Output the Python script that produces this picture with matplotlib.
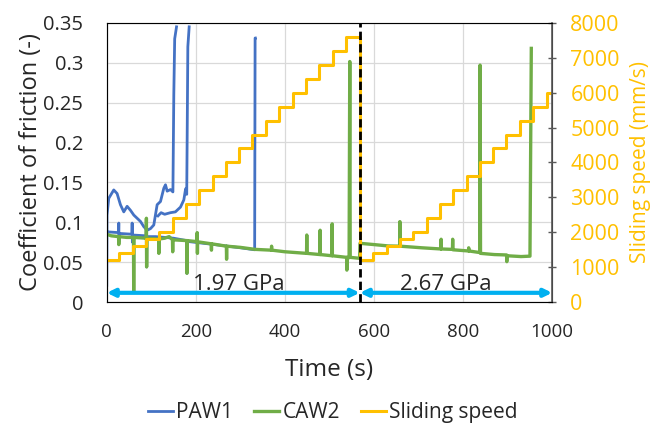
import numpy as np
import matplotlib
matplotlib.use('Agg')
import matplotlib.pyplot as plt

plt.rcParams['font.family'] = ['Open Sans', 'DejaVu Sans']

nan = np.nan

# PAW1 friction, three runs split by nan
paw1_time = [0, 0.5, 4.5, 15.7, 23.2, 30.7, 38.2, 45.7, 53.2, 60.7, 68.2, 75.7,
             83.1, 90.6, 98.1, 105.6, 113.1, 120.6, 128.1, 131.8, 135.6, 143.1,
             148.5, 150.5, 152.5, 156.6, nan,
             115, 122, 130, 143, 154, 165.5, 173, 177, 179.5, 180.4, 182, 185, nan,
             0, 26.5, 27, 27.5, 28, 56.5, 57, 57.5, 58, 88.5, 89, 89.5, 90, 110,
             150, 179.5, 180, 180.5, 250, 300, 332, 333, 333.5]
paw1_cof = [0.021, 0.109, 0.130, 0.1405, 0.136, 0.122, 0.113, 0.120, 0.115, 0.109, 0.105, 0.101,
            0.0945, 0.090, 0.092, 0.0966, 0.122, 0.126, 0.1427, 0.147, 0.139, 0.141,
            0.138, 0.26, 0.33, 0.345, nan,
            0.108, 0.112, 0.110, 0.112, 0.113, 0.119, 0.128, 0.142, 0.135, 0.20, 0.32, 0.345, nan,
            0.088, 0.087, 0.099, 0.075, 0.086, 0.085, 0.099, 0.075, 0.084, 0.083, 0.099, 0.044, 0.082, 0.082,
            0.080, 0.077, 0.036, 0.076, 0.0715, 0.068, 0.0655, 0.331, 0.331]

# CAW2 friction (1.97 GPa then 2.67 GPa)
caw2_time = [0, 10, 26.5, 27, 27.5, 45, 60, 60.5, 61, 88.5, 89, 89.5, 90,
             116.5, 117, 117.5, 130, 140, 147.5, 148, 148.5, 179.5, 180, 180.5,
             202.5, 203, 203.5, 204, 234.5, 235, 235.5, 268.5, 269, 269.5, 300, 333,
             369.5, 370, 370.5, 400, 448.5, 449, 449.5, 478.5, 479, 479.5,
             505.5, 506, 506.5, 538.5, 539, 539.5, 544, 545.5, 546.5, 567.5,
             568.5, 600, 632, 657.5, 658, 658.5, 707, 750, 750.6, 751, 776, 776.5, 777,
             812, 812.5, 813, 837.5, 838, 839, 870, 897.5, 898, 898.5, 930, 950, 953]
caw2_cof = [0.085, 0.083, 0.082, 0.072, 0.082, 0.081, 0.081, 0.013, 0.081, 0.080, 0.105, 0.044, 0.080,
            0.079, 0.061, 0.079, 0.080, 0.082, 0.078, 0.063, 0.078, 0.077, 0.036, 0.077,
            0.0757, 0.087, 0.061, 0.0755, 0.073, 0.065, 0.073, 0.070, 0.0536, 0.070, 0.0685, 0.066,
            0.065, 0.070, 0.065, 0.063, 0.061, 0.084, 0.061, 0.0595, 0.090, 0.0595,
            0.058, 0.098, 0.058, 0.056, 0.040, 0.056, 0.0555, 0.3015, 0.056, 0.0548,
            0.0736, 0.072, 0.0703, 0.070, 0.1008, 0.070, 0.068, 0.0665, 0.0787, 0.0665, 0.066, 0.0787, 0.0655,
            0.064, 0.068, 0.064, 0.062, 0.297, 0.061, 0.0595, 0.059, 0.0506, 0.058, 0.057, 0.0575, 0.318]

# sliding speed steps (mm/s)
speed_edges = [0, 28, 59, 88, 118, 148, 178, 207, 238, 267, 297, 327, 357, 387, 417,
               447, 477, 507, 537, 568, 597, 628, 658, 687, 718, 747, 777, 808, 838,
               867, 897, 928, 957, 988, 1000]
speed_values = [1200, 1400, 1600, 1800, 2000, 2400, 2800, 3200, 3600, 4000, 4400,
                4800, 5200, 5600, 6000, 6400, 6800, 7200, 7600,
                1200, 1400, 1600, 1800, 2000, 2400, 2800, 3200, 3600, 4000, 4400,
                4800, 5200, 5600, 6000]

t_switch = 568
pressure_labels = ['1.97 GPa', '2.67 GPa']
pressure_label_x = [297, 761]

yticks = [0, 0.05, 0.1, 0.15, 0.2, 0.25, 0.3, 0.35]
ytick_labels = ['0', '0.05', '0.1', '0.15', '0.2', '0.25', '0.3', '0.35']

blue = '#4472C4'
green = '#70AD47'
yellow = '#FFC000'
cyan = '#00B0F0'
txt = '#262626'

fig, ax = plt.subplots(figsize=(6.59, 4.23), dpi=100)
fig.subplots_adjust(left=0.162, right=0.838, bottom=0.286, top=0.946)

l1, = ax.plot(paw1_time, paw1_cof, color=blue, lw=2)
l2, = ax.plot(caw2_time, caw2_cof, color=green, lw=2.4)
ax.set_xlim(0, 1000)
ax.set_ylim(0, 0.35)
ax.set_xticks(range(0, 1001, 200))
ax.set_yticks(yticks)
ax.set_yticklabels(ytick_labels)
ax.set_axisbelow(True)
ax.grid(color='#D9D9D9', lw=0.9)
ax.tick_params(axis='y', length=0, labelsize=14.5, colors=txt, pad=17)
ax.tick_params(axis='x', length=0, labelsize=13.5, colors=txt, pad=15)
ax.set_xlabel('Time (s)', fontsize=17.5, color=txt, labelpad=12)
ax.set_ylabel('Coefficient of friction (-)', fontsize=17, color=txt, labelpad=0)
for s in ['left', 'bottom']:
    ax.spines[s].set_color('#7F7F7F')
ax.spines['top'].set_color('#A6A6A6')

ax2 = ax.twinx()
l3, = ax2.step(speed_edges, speed_values + [speed_values[-1]], where='post',
               color=yellow, lw=2.2)
ax2.set_ylim(0, 8000)
ax2.set_yticks(range(0, 8001, 1000))
ax2.tick_params(axis='y', direction='inout', length=6, width=1, color='#595959',
                labelsize=15.5, labelcolor=yellow, pad=10)
ax2.spines['right'].set_color('#595959')
ax2.spines['right'].set_linewidth(1.2)
ax2.set_ylabel('Sliding speed (mm/s)', fontsize=15, color=yellow, labelpad=7)

ax2.axvline(t_switch, color='black', lw=2, ls=(0, (3, 1.5)))

tr = ax2.get_xaxis_transform()
arrow = dict(arrowstyle='<|-|>,head_length=0.45,head_width=0.22', color=cyan,
             lw=3, shrinkA=0, shrinkB=0)
ax2.annotate('', xy=(0, 0.033), xytext=(t_switch, 0.033), xycoords=tr, arrowprops=arrow)
ax2.annotate('', xy=(t_switch, 0.033), xytext=(1000, 0.033), xycoords=tr, arrowprops=arrow)
for x, s in zip(pressure_label_x, pressure_labels):
    ax2.text(x, 0.064, s, transform=tr, ha='center', va='center', fontsize=16, color=txt)

fig.legend([l1, l2, l3], ['PAW1', 'CAW2', 'Sliding speed'], loc='center',
           bbox_to_anchor=(0.505, 0.024), ncol=3, frameon=False, fontsize=15,
           handlelength=1.2, handletextpad=0.15, columnspacing=1.0, labelcolor=txt)

fig.savefig('out.png', dpi=100)
